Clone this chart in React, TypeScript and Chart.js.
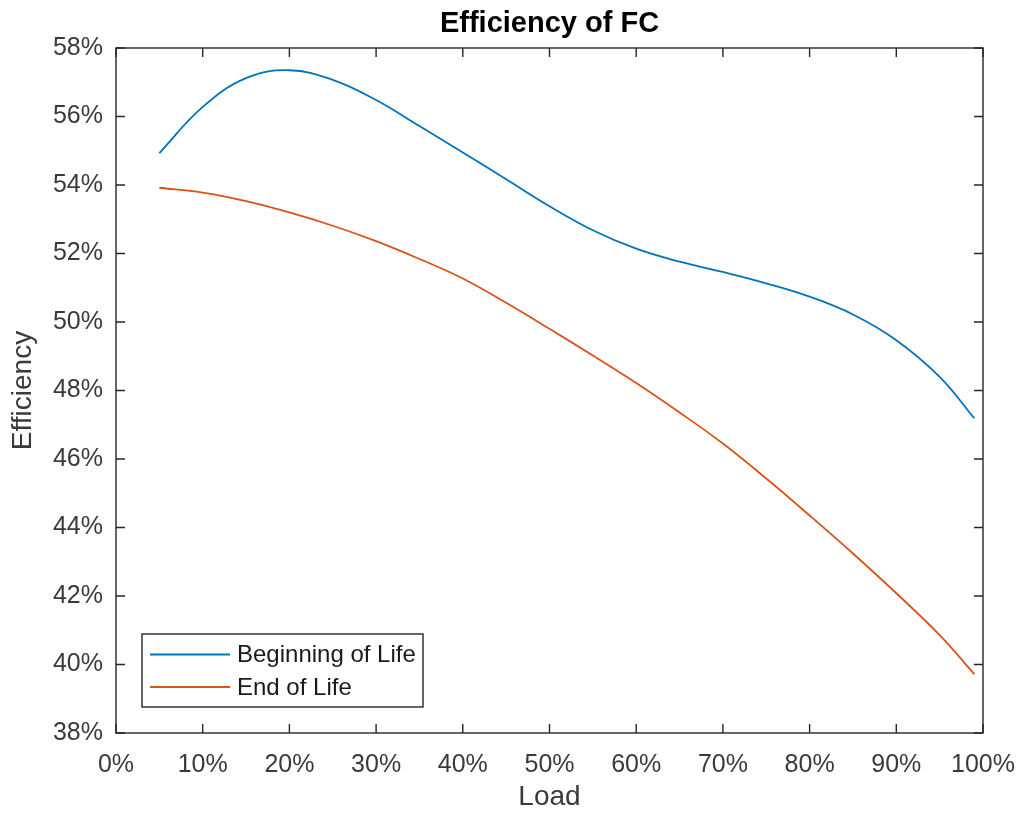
import React, { useEffect, useRef } from "react";
import { Chart, registerables } from "chart.js";

Chart.register(...registerables);

// Fuel cell efficiency versus load, beginning and end of life
const bolLoad = [5, 10, 15, 20, 25, 30, 35, 40, 45, 50, 55, 60, 65, 70, 75, 80, 85, 90, 95, 99];
const bolEff = [54.93, 56.28, 57.12, 57.35, 57.07, 56.48, 55.72, 54.95, 54.17, 53.38, 52.68, 52.14, 51.76, 51.46, 51.13, 50.74, 50.22, 49.47, 48.4, 47.19];

const eolLoad = [5, 10, 15, 20, 25, 30, 35, 40, 45, 50, 55, 60, 65, 70, 75, 80, 85, 90, 95, 99];
const eolEff = [53.92, 53.78, 53.53, 53.2, 52.81, 52.36, 51.84, 51.27, 50.56, 49.8, 49.02, 48.22, 47.36, 46.45, 45.43, 44.35, 43.24, 42.08, 40.86, 39.72];

const seriesLabels = ["Beginning of Life", "End of Life"];
const seriesColors = ["#0072BD", "#D95319"];

const chartTitle = "Efficiency of FC";
const xTitle = "Load";
const yTitle = "Efficiency";
const xMin = 0, xMax = 100, xStep = 10;
const yMin = 38, yMax = 58, yStep = 2;

const FONT = "'Liberation Sans', Arial, Helvetica, sans-serif";
const AXIS_COLOR = "#262626";
const TEXT_COLOR = "#3a3a3a";

// Title centred over the plot area
const titlePlugin = {
  id: "plotTitle",
  afterDraw(chart: any) {
    const { ctx, chartArea } = chart;
    ctx.save();
    ctx.font = `bold 29px ${FONT}`;
    ctx.fillStyle = "#000000";
    ctx.textAlign = "center";
    ctx.textBaseline = "alphabetic";
    ctx.fillText(chartTitle, (chartArea.left + chartArea.right) / 2, chartArea.top - 16);
    ctx.restore();
  },
};

// Axes box with inward tick marks on all four sides
const boxPlugin = {
  id: "axesBox",
  afterDatasetsDraw(chart: any) {
    const { ctx, chartArea } = chart;
    const { left, right, top, bottom } = chartArea;
    const xs = chart.scales.x;
    const ys = chart.scales.y;
    const tl = 9;
    ctx.save();
    ctx.strokeStyle = AXIS_COLOR;
    ctx.lineWidth = 1.4;
    ctx.strokeRect(left, top, right - left, bottom - top);
    ctx.beginPath();
    xs.ticks.forEach((t: any) => {
      const px = xs.getPixelForValue(t.value);
      ctx.moveTo(px, bottom);
      ctx.lineTo(px, bottom - tl);
      ctx.moveTo(px, top);
      ctx.lineTo(px, top + tl);
    });
    ys.ticks.forEach((t: any) => {
      const py = ys.getPixelForValue(t.value);
      ctx.moveTo(left, py);
      ctx.lineTo(left + tl, py);
      ctx.moveTo(right, py);
      ctx.lineTo(right - tl, py);
    });
    ctx.stroke();
    ctx.restore();
  },
};

// Boxed legend in the lower-left corner of the plot area
const legendPlugin = {
  id: "insetLegend",
  afterDraw(chart: any) {
    const { ctx, chartArea } = chart;
    const x0 = chartArea.left + 26;
    const y0 = chartArea.bottom - 99;
    const w = 281;
    const h = 73;
    ctx.save();
    ctx.fillStyle = "#ffffff";
    ctx.fillRect(x0, y0, w, h);
    ctx.strokeStyle = AXIS_COLOR;
    ctx.lineWidth = 1.4;
    ctx.strokeRect(x0, y0, w, h);
    ctx.font = `24px ${FONT}`;
    ctx.textBaseline = "middle";
    ctx.textAlign = "left";
    chart.data.datasets.forEach((ds: any, i: number) => {
      const y = y0 + 20.5 + i * 32.5;
      ctx.strokeStyle = ds.borderColor;
      ctx.lineWidth = 1.8;
      ctx.beginPath();
      ctx.moveTo(x0 + 8, y);
      ctx.lineTo(x0 + 88, y);
      ctx.stroke();
      ctx.fillStyle = "#1a1a1a";
      ctx.fillText(ds.label, x0 + 95, y + 1);
    });
    ctx.restore();
  },
};

export default function App() {
  const canvasRef = useRef<HTMLCanvasElement | null>(null);

  useEffect(() => {
    document.body.style.margin = "0";
    const canvas = canvasRef.current;
    if (!canvas) return;

    const chart = new Chart(canvas, {
      type: "line",
      data: {
        datasets: [
          {
            label: seriesLabels[0],
            data: bolLoad.map((x, i) => ({ x, y: bolEff[i] })),
            borderColor: seriesColors[0],
            backgroundColor: seriesColors[0],
            borderWidth: 1.8,
            pointRadius: 0,
            tension: 0.4,
            fill: false,
          },
          {
            label: seriesLabels[1],
            data: eolLoad.map((x, i) => ({ x, y: eolEff[i] })),
            borderColor: seriesColors[1],
            backgroundColor: seriesColors[1],
            borderWidth: 1.8,
            pointRadius: 0,
            tension: 0.4,
            fill: false,
          },
        ],
      },
      options: {
        responsive: false,
        animation: false,
        layout: { padding: { left: 0, right: 38, top: 48, bottom: 0 } },
        plugins: {
          legend: { display: false },
          tooltip: { enabled: false },
          title: { display: false },
        },
        scales: {
          x: {
            type: "linear",
            min: xMin,
            max: xMax,
            grid: { display: false, drawTicks: false },
            border: { display: false },
            ticks: {
              stepSize: xStep,
              color: TEXT_COLOR,
              padding: 17,
              maxRotation: 0,
              autoSkip: false,
              font: { family: FONT, size: 25 },
              callback: (v: any) => `${v}%`,
            },
            title: {
              display: true,
              text: xTitle,
              color: TEXT_COLOR,
              font: { family: FONT, size: 28 },
              padding: { top: 0, bottom: 0 },
            },
            afterFit: (scale: any) => {
              scale.height = 81;
              scale.paddingLeft = 0;
              scale.paddingRight = 0;
            },
          },
          y: {
            type: "linear",
            min: yMin,
            max: yMax,
            grid: { display: false, drawTicks: false },
            border: { display: false },
            ticks: {
              stepSize: yStep,
              color: TEXT_COLOR,
              padding: 13,
              autoSkip: false,
              font: { family: FONT, size: 25 },
              callback: (v: any) => `${v}%`,
            },
            title: {
              display: true,
              text: yTitle,
              color: TEXT_COLOR,
              font: { family: FONT, size: 28 },
              padding: { top: 6, bottom: 0 },
            },
            afterFit: (scale: any) => {
              scale.width = 116;
              scale.paddingTop = 0;
              scale.paddingBottom = 0;
            },
          },
        },
      },
      plugins: [boxPlugin, legendPlugin, titlePlugin],
    });

    return () => chart.destroy();
  }, []);

  return (
    <div style={{ width: 1021, height: 814, background: "#ffffff" }}>
      <canvas ref={canvasRef} width={1021} height={814} style={{ display: "block" }} />
    </div>
  );
}
